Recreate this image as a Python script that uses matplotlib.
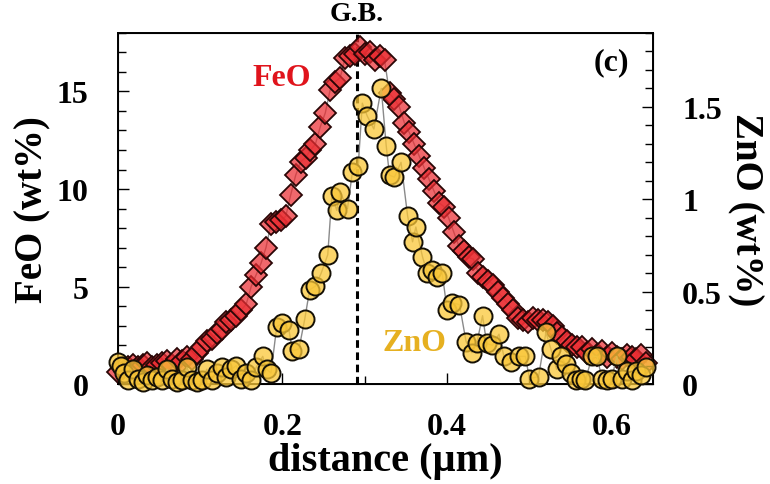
import matplotlib
matplotlib.use("Agg")
import matplotlib.pyplot as plt
from matplotlib.ticker import MultipleLocator, FormatStrFormatter

plt.rcParams['font.family'] = ['Liberation Serif', 'DejaVu Serif']
plt.rcParams['font.weight'] = 'bold'
plt.rcParams['axes.labelweight'] = 'bold'

# FeO line scan (wt%)
feo_x = [0.000, 0.006, 0.012, 0.018, 0.024, 0.030, 0.036, 0.042, 0.048, 0.054,
         0.060, 0.066, 0.072, 0.078, 0.084, 0.090, 0.096, 0.102, 0.108, 0.114,
         0.120, 0.126, 0.132, 0.138, 0.144, 0.150, 0.156, 0.162, 0.168, 0.174,
         0.180, 0.186, 0.192, 0.198, 0.204, 0.210, 0.216, 0.222, 0.228, 0.234,
         0.240, 0.246, 0.252, 0.258, 0.264, 0.270, 0.276, 0.282, 0.288, 0.294,
         0.300, 0.306, 0.312, 0.318, 0.324, 0.330, 0.336, 0.342, 0.348, 0.354,
         0.360, 0.366, 0.372, 0.378, 0.384, 0.390, 0.396, 0.402, 0.408, 0.414,
         0.420, 0.426, 0.432, 0.438, 0.444, 0.450, 0.456, 0.462, 0.468, 0.474,
         0.480, 0.486, 0.492, 0.498, 0.504, 0.510, 0.516, 0.522, 0.528, 0.534,
         0.540, 0.546, 0.552, 0.558, 0.564, 0.570, 0.576, 0.582, 0.588, 0.594,
         0.600, 0.606, 0.612, 0.618, 0.624, 0.630, 0.636, 0.642]
feo = [0.6, 0.8, 0.9, 1.0, 0.9, 1.0, 1.1, 0.9, 1.0, 1.1,
       1.2, 1.0, 1.3, 1.2, 1.4, 1.3, 1.6, 1.9, 2.2, 2.3,
       2.6, 2.8, 3.2, 3.3, 3.5, 3.8, 4.1, 5.0, 5.6, 6.2,
       7.0, 8.2, 8.3, 8.4, 8.6, 9.7, 10.7, 11.4, 11.6, 12.0,
       12.3, 13.2, 13.9, 15.1, 15.5, 15.7, 16.7, 16.8, 16.9, 17.3,
       16.9, 17.0, 16.6, 16.8, 16.6, 14.9, 14.6, 14.2, 13.4, 12.9,
       12.3, 11.7, 11.1, 10.5, 9.9, 9.3, 9.1, 8.5, 7.8, 7.1,
       6.8, 6.5, 6.4, 5.7, 5.5, 5.3, 5.1, 4.7, 4.4, 4.1,
       3.8, 3.4, 3.3, 3.2, 3.4, 3.3, 3.3, 3.2, 3.0, 2.6,
       2.4, 2.2, 2.0, 1.9, 1.9, 1.6, 1.8, 1.5, 1.7, 1.4,
       1.6, 1.4, 1.3, 1.5, 1.4, 1.3, 1.5, 1.1]

# ZnO line scan (wt%)
zno_x = [0.000, 0.004, 0.008, 0.012, 0.018, 0.024, 0.030, 0.036, 0.042, 0.048,
         0.054, 0.060, 0.066, 0.072, 0.078, 0.084, 0.090, 0.096, 0.102, 0.108,
         0.114, 0.120, 0.126, 0.132, 0.138, 0.144, 0.150, 0.156, 0.162, 0.168,
         0.176, 0.181, 0.186, 0.193, 0.200, 0.208, 0.212, 0.220, 0.227, 0.233,
         0.240, 0.247, 0.255, 0.260, 0.266, 0.270, 0.279, 0.285, 0.292, 0.297,
         0.303, 0.311, 0.320, 0.326, 0.330, 0.336, 0.344, 0.352, 0.358, 0.362,
         0.370, 0.376, 0.382, 0.388, 0.394, 0.400, 0.406, 0.415, 0.423, 0.430,
         0.436, 0.443, 0.448, 0.455, 0.463, 0.469, 0.478, 0.487, 0.495, 0.500,
         0.511, 0.520, 0.526, 0.533, 0.538, 0.544, 0.550, 0.556, 0.562, 0.568,
         0.576, 0.582, 0.588, 0.594, 0.600, 0.606, 0.612, 0.618, 0.624, 0.630,
         0.636, 0.642]
zno = [0.12, 0.10, 0.06, 0.02, 0.08, 0.03, 0.01, 0.05, 0.02, 0.04,
       0.02, 0.08, 0.03, 0.01, 0.02, 0.09, 0.02, 0.01, 0.02, 0.08,
       0.02, 0.06, 0.09, 0.04, 0.08, 0.10, 0.03, 0.06, 0.02, 0.09,
       0.15, 0.08, 0.06, 0.31, 0.33, 0.29, 0.18, 0.19, 0.35, 0.51,
       0.53, 0.60, 0.70, 1.02, 0.94, 1.04, 0.95, 1.15, 1.18, 1.52,
       1.45, 1.38, 1.60, 1.29, 1.13, 1.12, 1.20, 0.91, 0.77, 0.85,
       0.69, 0.60, 0.62, 0.58, 0.60, 0.40, 0.44, 0.43, 0.23, 0.17,
       0.22, 0.37, 0.22, 0.21, 0.27, 0.15, 0.12, 0.15, 0.15, 0.03,
       0.04, 0.28, 0.19, 0.08, 0.15, 0.11, 0.06, 0.02, 0.03, 0.02,
       0.15, 0.15, 0.03, 0.02, 0.03, 0.15, 0.03, 0.07, 0.02, 0.07,
       0.05, 0.09]

gb_pos = 0.29

fig = plt.figure(figsize=(7.7, 4.85), dpi=100)
ax = fig.add_axes([0.153, 0.206, 0.695, 0.724])
ax2 = ax.twinx()

ax.axvline(gb_pos, ymin=0, ymax=1, color='black', lw=2.2, ls=(0, (2.5, 1.5)), zorder=1)
ax.plot(feo_x, feo, color='#8a8a8a', lw=1.0, zorder=2)
ax.plot(feo_x, feo, ls='none', marker='D', ms=11, mfc=(0.92, 0.18, 0.2, 0.72),
        mec='#2a0606', mew=1.3, clip_on=False, zorder=3)

ax2.plot(zno_x, zno, color='#8a8a8a', lw=1.0, zorder=2)
ax2.plot(zno_x, zno, ls='none', marker='o', ms=13, mfc=(0.98, 0.78, 0.22, 0.75),
         mec='#151005', mew=1.4, clip_on=False, zorder=3)

ax.set_xlim(0, 0.65)
ax.set_ylim(0, 18)
ax2.set_ylim(0, 1.9)

ax.xaxis.set_major_locator(MultipleLocator(0.2))
ax.xaxis.set_minor_locator(MultipleLocator(0.1))
ax.xaxis.set_major_formatter(FormatStrFormatter('%g'))
ax.yaxis.set_major_locator(MultipleLocator(5))
ax.yaxis.set_minor_locator(MultipleLocator(1))
ax2.yaxis.set_major_locator(MultipleLocator(0.5))
ax2.yaxis.set_minor_locator(MultipleLocator(0.1))
ax2.yaxis.set_major_formatter(FormatStrFormatter('%g'))

ax.tick_params(axis='both', which='both', direction='in', top=False, right=False,
               labelsize=23, width=1)
ax.tick_params(which='major', length=8)
ax.tick_params(which='minor', length=6)
ax.tick_params(axis='y', which='major', pad=21)
ax.tick_params(axis='x', which='major', pad=20)
ax2.tick_params(axis='y', which='both', direction='in', labelsize=23, width=1)
ax2.tick_params(which='major', length=8, pad=21)
ax2.tick_params(which='minor', length=6)

for spine in ax.spines.values():
    spine.set_linewidth(1.4)

ax.set_xlabel('distance (\u00b5m)', fontsize=29, labelpad=1)
ax.set_ylabel('FeO (wt%)', fontsize=28, labelpad=4)
ax2.set_ylabel('ZnO (wt%)', fontsize=28, rotation=270, labelpad=30)

ax.text(0.199, 15.7, 'FeO', color='#e0141c', fontsize=23, ha='center', va='center')
ax.text(0.36, 2.15, 'ZnO', color='#e6b020', fontsize=23, ha='center', va='center')
ax.text(0.60, 16.5, '(c)', color='black', fontsize=23, ha='center', va='center')
ax.text(gb_pos, 18.35, 'G.B.', fontsize=20, ha='center', va='bottom')

fig.savefig('out.png', dpi=100)
